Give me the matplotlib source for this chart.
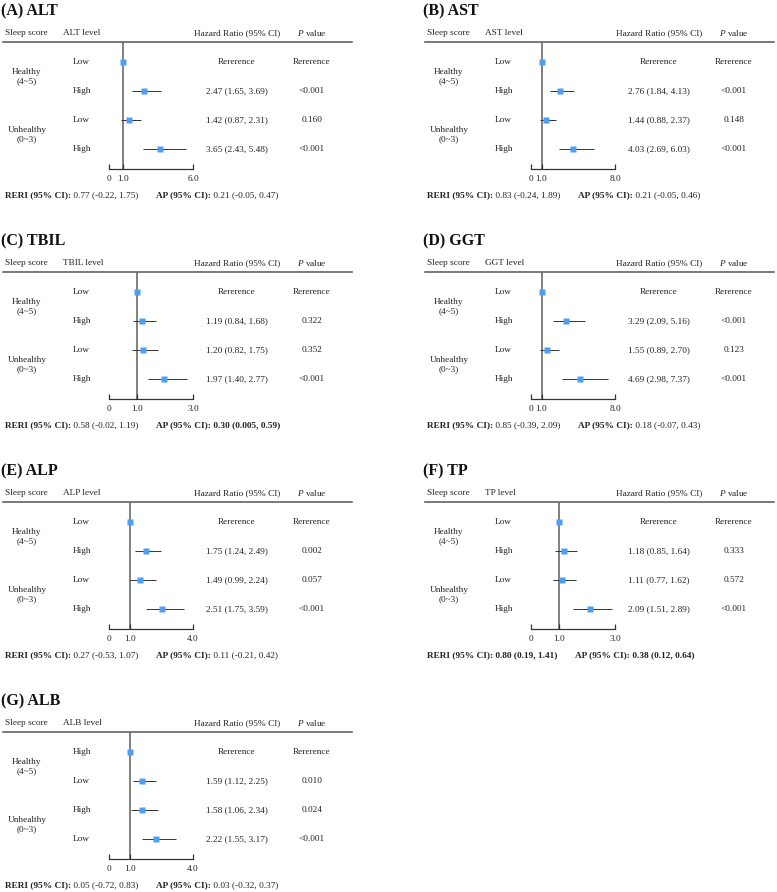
import matplotlib
matplotlib.use('Agg')
import matplotlib.pyplot as plt
import matplotlib.transforms as mtransforms
import numpy as np

plt.rcParams['font.family'] = ['Liberation Serif', 'DejaVu Serif']
plt.rcParams['mathtext.fontset'] = 'custom'
plt.rcParams['mathtext.rm'] = 'Liberation Serif'
plt.rcParams['mathtext.it'] = 'Liberation Serif:italic'

# data
titles = ['(A) ALT', '(B) AST', '(C) TBIL', '(D) GGT', '(E) ALP', '(F) TP', '(G) ALB']
markers = ['ALT', 'AST', 'TBIL', 'GGT', 'ALP', 'TP', 'ALB']
levels_std = ['Low', 'High', 'Low', 'High']
levels_alb = ['High', 'Low', 'High', 'Low']
groups = ['Healthy\n(4~5)', 'Unhealthy\n(0~3)']
nan = np.nan

hr_alt = [1.00, 2.47, 1.42, 3.65]
lo_alt = [nan, 1.65, 0.87, 2.43]
hi_alt = [nan, 3.69, 2.31, 5.48]
p_alt = ['Rererence', '<0.001', '0.160', '<0.001']

hr_ast = [1.00, 2.76, 1.44, 4.03]
lo_ast = [nan, 1.84, 0.88, 2.69]
hi_ast = [nan, 4.13, 2.37, 6.03]
p_ast = ['Rererence', '<0.001', '0.148', '<0.001']

hr_tbil = [1.00, 1.19, 1.20, 1.97]
lo_tbil = [nan, 0.84, 0.82, 1.40]
hi_tbil = [nan, 1.68, 1.75, 2.77]
p_tbil = ['Rererence', '0.322', '0.352', '<0.001']

hr_ggt = [1.00, 3.29, 1.55, 4.69]
lo_ggt = [nan, 2.09, 0.89, 2.98]
hi_ggt = [nan, 5.16, 2.70, 7.37]
p_ggt = ['Rererence', '<0.001', '0.123', '<0.001']

hr_alp = [1.00, 1.75, 1.49, 2.51]
lo_alp = [nan, 1.24, 0.99, 1.75]
hi_alp = [nan, 2.49, 2.24, 3.59]
p_alp = ['Rererence', '0.002', '0.057', '<0.001']

hr_tp = [1.00, 1.18, 1.11, 2.09]
lo_tp = [nan, 0.85, 0.77, 1.51]
hi_tp = [nan, 1.64, 1.62, 2.89]
p_tp = ['Rererence', '0.333', '0.572', '<0.001']

hr_alb = [1.00, 1.59, 1.58, 2.22]
lo_alb = [nan, 1.12, 1.06, 1.55]
hi_alb = [nan, 2.25, 2.34, 3.17]
p_alb = ['Rererence', '0.010', '0.024', '<0.001']

x_max = [6, 8, 3, 8, 4, 3, 4]
reri = ['0.77 (-0.22, 1.75)', '0.83 (-0.24, 1.89)', '0.58 (-0.02, 1.19)', '0.85 (-0.39, 2.09)',
        '0.27 (-0.53, 1.07)', '0.80 (0.19, 1.41)', '0.05 (-0.72, 0.83)']
ap = ['0.21 (-0.05, 0.47)', '0.21 (-0.05, 0.46)', '0.30 (0.005, 0.59)', '0.18 (-0.07, 0.43)',
      '0.11 (-0.21, 0.42)', '0.38 (0.12, 0.64)', '0.03 (-0.32, 0.37)']
reri_bold = [False, False, False, False, False, True, False]
ap_bold = [False, False, True, False, False, True, False]

hrs = [hr_alt, hr_ast, hr_tbil, hr_ggt, hr_alp, hr_tp, hr_alb]
los = [lo_alt, lo_ast, lo_tbil, lo_ggt, lo_alp, lo_tp, lo_alb]
his = [hi_alt, hi_ast, hi_tbil, hi_ggt, hi_alp, hi_tp, hi_alb]
ps = [p_alt, p_ast, p_tbil, p_ggt, p_alp, p_tp, p_alb]

W, H = 777, 892
fig = plt.figure(figsize=(W / 100, H / 100), dpi=100)
bg = fig.add_axes([0, 0, 1, 1])
bg.set_xlim(0, W)
bg.set_ylim(H, 0)
bg.axis('off')

fs = 6.7
tc = '#222222'
blue = '#4f9ef2'


def px_axes(left, top, right, bottom):
    return fig.add_axes([left / W, 1 - bottom / H, (right - left) / W, (bottom - top) / H])


for i in range(7):
    ox = [0, 422][i % 2]
    oy = [0, 230, 460, 690][i // 2]
    hr = np.array(hrs[i])
    lo = np.array(los[i])
    hi = np.array(his[i])
    rows = np.arange(4)
    levels = levels_alb if markers[i] == 'ALB' else levels_std

    bg.text(ox + 1, oy + 11, titles[i], fontsize=11.5, weight='bold', va='center', color='#111')

    # forest part
    ax = px_axes(ox + 109, oy + 42, ox + 193, oy + 169)
    ax.set_xlim(0, x_max[i])
    ax.set_ylim(3 + 20 / 29, -20 / 29)
    ax.patch.set_alpha(0)
    for s in ['top', 'left', 'right']:
        ax.spines[s].set_visible(False)
    ax.spines['bottom'].set_bounds(0, x_max[i])
    ax.spines['bottom'].set_color('#333')
    ax.spines['bottom'].set_linewidth(0.9)
    ax.set_yticks([])
    ax.set_xticks([0, 1, x_max[i]])
    ax.set_xticklabels(['0', '1.0', f'{x_max[i]:.1f}'])
    ax.tick_params(axis='x', direction='in', length=3.5, width=0.9, pad=4.5,
                   labelsize=fs, color='#333', labelcolor=tc)
    ax.axvline(1, color='#6b6b6b', lw=1.2, zorder=1)
    ok = ~np.isnan(lo)
    ax.hlines(rows[ok], lo[ok], hi[ok], color='#333', lw=0.7, zorder=2)
    ax.plot(hr, rows, 's', ms=3.9, color=blue, mec='none', zorder=3, clip_on=False)

    # table text
    hy = oy + 33
    bg.text(ox + 5, hy, 'Sleep score', fontsize=fs, va='center', color=tc)
    bg.text(ox + 63, hy, f'{markers[i]} level', fontsize=fs, va='center', color=tc)
    bg.text(ox + 237, hy, 'Hazard Ratio (95% CI)', fontsize=fs, va='center', ha='center', color=tc)
    bg.text(ox + 312, hy, r'$\mathit{P}$ value', fontsize=fs, va='center', ha='center', color=tc)
    bg.plot([ox + 3, min(ox + 352, W)], [oy + 42, oy + 42], color='#555', lw=1.1)

    tr = mtransforms.blended_transform_factory(bg.transData, ax.transData)
    bg.text(ox + 27, 0.5, groups[0], transform=tr, fontsize=fs, ha='center', va='center',
            linespacing=1.15, color=tc)
    bg.text(ox + 27, 2.5, groups[1], transform=tr, fontsize=fs, ha='center', va='center',
            linespacing=1.15, color=tc)
    for r in rows:
        bg.text(ox + 73, r, levels[r], transform=tr, fontsize=fs, va='center', color=tc)
        if np.isnan(lo[r]):
            ci = 'Rererence'
        else:
            ci = f'{hr[r]:.2f} ({lo[r]:.2f}, {hi[r]:.2f})'
        bg.text(ox + 237, r, ci, transform=tr, fontsize=fs, ha='center', va='center', color=tc)
        bg.text(ox + 312, r, ps[i][r], transform=tr, fontsize=fs, ha='center', va='center', color=tc)

    # RERI / AP line
    t1 = bg.text(ox + 5, oy + 195, 'RERI (95% CI):', fontsize=fs, weight='bold', va='center', color=tc)
    t2 = bg.annotate(' ' + reri[i], xy=(1, 0), xycoords=t1, va='bottom', ha='left', fontsize=fs,
                     weight='bold' if reri_bold[i] else 'normal', color=tc)
    t3 = bg.annotate('AP (95% CI):', xy=(1, 0), xycoords=t2, xytext=(12.5, 0), textcoords='offset points',
                     va='bottom', ha='left', fontsize=fs, weight='bold', color=tc)
    bg.annotate(' ' + ap[i], xy=(1, 0), xycoords=t3, va='bottom', ha='left', fontsize=fs,
                weight='bold' if ap_bold[i] else 'normal', color=tc)

fig.savefig('out.png', dpi=100)
